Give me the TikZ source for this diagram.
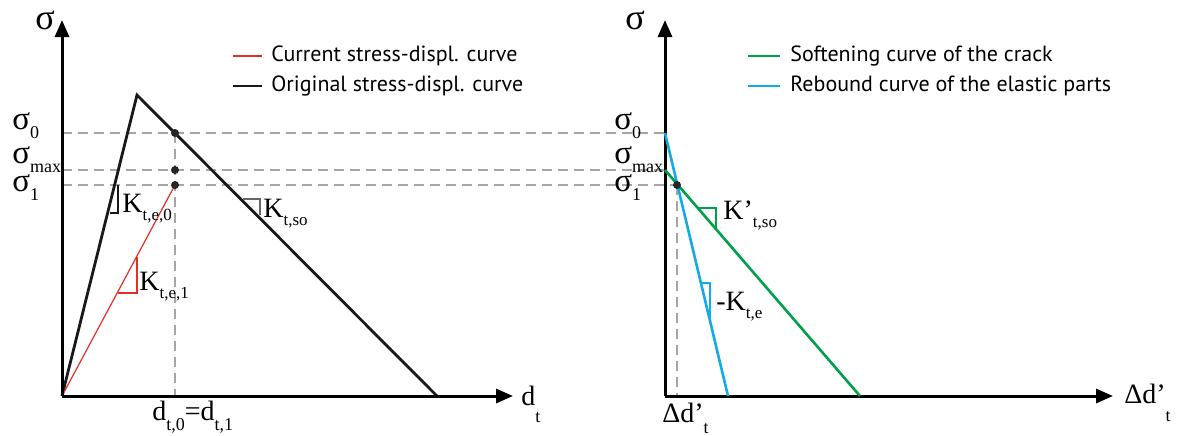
\documentclass[tikz,border=0pt]{standalone}
\usepackage{fontspec}
\setmainfont{Liberation Serif}
\newfontfamily\legfont{PT Sans}
\usetikzlibrary{arrows.meta}
\definecolor{cred}{RGB}{232,45,40}
\definecolor{cgreen}{RGB}{0,160,75}
\definecolor{cblue}{RGB}{20,170,230}
\definecolor{cgray}{RGB}{165,165,165}
\newcommand{\subl}[2][4.5pt]{\raisebox{-#1}{\fontsize{9}{9}\selectfont #2}}
\newcommand{\subm}[1]{\raisebox{-4.5pt}[\height][0pt]{\fontsize{9}{9}\selectfont #1}}
\newcommand{\subk}[1]{\raisebox{-4pt}{\fontsize{8.5}{8.5}\selectfont #1}}
\begin{document}
\begin{tikzpicture}[x=0.5pt,y=-0.5pt,
  axis/.style={line width=1.5pt,-{Triangle[length=8.5pt,width=7pt]}},
  orig/.style={line width=1.4pt,black!90},
  curr/.style={line width=0.6pt,cred},
  soft/.style={line width=1.3pt,cgreen},
  reb/.style={line width=1.3pt,cblue},
  guide/.style={cgray,line width=0.8pt,dash pattern=on 5pt off 3pt},
  dot/.style={circle,fill=black!85,inner sep=0pt,minimum size=4pt},
  lab/.style={font=\fontsize{16.5}{16.5}\selectfont,inner sep=0pt},
  dlab/.style={font=\fontsize{14}{14}\selectfont,inner sep=0pt,anchor=base west},
  klab/.style={font=\fontsize{14}{14}\selectfont,inner sep=0pt,anchor=base west},
  leg/.style={font=\legfont\fontsize{11}{11}\selectfont,anchor=west,inner sep=0pt}]
\useasboundingbox (0,0) rectangle (1183,435);
% left coordinates
\coordinate (O1) at (62,396);
\coordinate (Y1) at (62,20);
\coordinate (X1) at (513,396);
\coordinate (P) at (137,95);
\coordinate (E) at (437,396);
\coordinate (A0) at (175,133);
\coordinate (Am) at (175,170);
\coordinate (A1) at (175,185);
\coordinate (Ab) at (175,396);
% right coordinates
\coordinate (O2) at (665,396);
\coordinate (Y2) at (665,20);
\coordinate (X2) at (1113,396);
\coordinate (B0) at (665,133);
\coordinate (Bm) at (665,170);
\coordinate (Bb) at (728,396);
\coordinate (Ge) at (860,396);
\coordinate (C) at (677,185);
\coordinate (Cb) at (677,396);
% guides
\draw[guide] (62,133) -- (B0);
\draw[guide] (62,170) -- (Bm);
\draw[guide] (62,185) -- (C);
\draw[guide] (A0) -- (Ab);
\draw[guide] (C) -- (Cb);
% left curves
\draw[orig] (O1) -- (P) -- (E);
\draw[curr] (O1) -- (A1);
\node[dot] at (A0) {};
\node[dot] at (Am) {};
\node[dot] at (A1) {};
% slope triangles left
\draw[black!90,line width=0.6pt] (118,185) -- (118,213) -- (110,213);
\draw[cred,line width=0.6pt] (137,257) -- (137,293) -- (118,293);
\draw[black!60,line width=1pt] (243,199) -- (260,199) -- (260,215);
% axes
\draw[axis] (O1) -- (Y1);
\draw[axis] (O1) -- (X1);
\draw[axis] (O2) -- (Y2);
\draw[axis] (O2) -- (X2);
% right curves
\draw[reb] (B0) -- (Bb);
\draw[soft] (Bm) -- (Ge);
\node[dot] at (C) {};
\draw[cgreen,line width=0.6pt] (698,208) -- (716,208) -- (716,229);
\draw[cblue,line width=0.6pt] (701,283) -- (710,283) -- (710,321);
% axis labels
\node[lab,font=\fontsize{18}{18}\selectfont] (s1) at (45,20) {σ};
\node[lab,font=\fontsize{18}{18}\selectfont] (s2) at (635,20) {σ};
\node[dlab] (dt) at (521,405) {d\subl[8.5pt]{t}};
\node[dlab] (dd) at (1124,403) {Δd’\subl[9pt]{t}};
\node[dlab] (d01) at (152,420) {d\subl[5pt]{t,0}=d\subl[5pt]{t,1}};
\node[dlab] (dd2) at (662,422) {Δd’\subl[5.5pt]{t}};
% sigma labels left
\node[lab,anchor=base west] (l0) at (12,129) {σ\subl{0}};
\node[lab,anchor=base west] (lm) at (12,163) {σ\subm{max}};
\node[lab,anchor=base west] (l1) at (12,191) {σ\subl{1}};
% sigma labels right
\node[lab,anchor=base west] (r0) at (614,129) {σ\subl{0}};
\node[lab,anchor=base west] (rm) at (614,163) {σ\subm{max}};
\node[lab,anchor=base west] (r1) at (614,191) {σ\subl{1}};
% K labels
\node[klab] (k0) at (122,212) {K\subk{t,e,0}};
\node[klab] (k1) at (139,290) {K\subk{t,e,1}};
\node[klab] (ks) at (263,217) {K\subk{t,so}};
\node[klab] (kso) at (723,219) {K’\subk{t,so}};
\node[klab] (ke) at (716,310) {-K\subk{t,e}};
% legends
\draw[curr] (233,56) -- (262,56);
\node[leg] (lg1) at (271,56) {Current stress-displ. curve};
\draw[orig] (233,86) -- (262,86);
\node[leg] (lg2) at (271,86) {Original stress-displ. curve};
\draw[soft] (748,56) -- (780,56);
\node[leg] (lg3) at (790,56) {Softening curve of the crack};
\draw[reb] (748,86) -- (780,86);
\node[leg] (lg4) at (790,86) {Rebound curve of the elastic parts};
\end{tikzpicture}
\end{document}
